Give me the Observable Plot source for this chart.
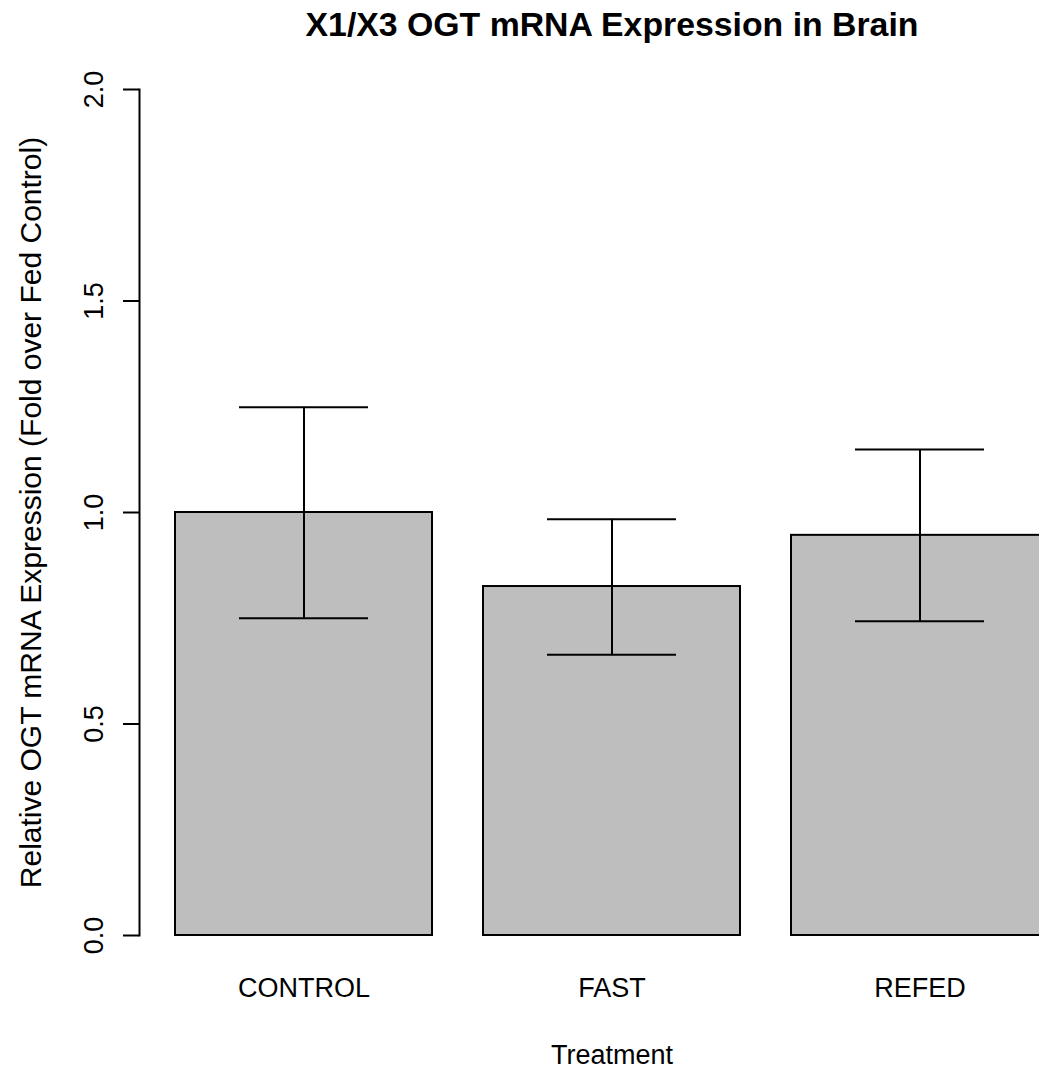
<!DOCTYPE html>
<html>
<head>
<meta charset="utf-8">
<script src="https://cdn.jsdelivr.net/npm/d3@7"></script>
<script src="https://cdn.jsdelivr.net/npm/@observablehq/plot@0.6"></script>
<style>
  html, body { margin: 0; padding: 0; background: white; overflow: hidden; }
</style>
</head>
<body>
<div id="chart"></div>
<script>
const title = "X1/X3 OGT mRNA Expression in Brain";
const xLabel = "Treatment";
const yLabel = "Relative OGT mRNA Expression (Fold over Fed Control)";
const categories = ["CONTROL", "FAST", "REFED"];
const means = [1.0, 0.825, 0.946];
const upperValues = [1.249, 0.984, 1.149];
const lowerValues = [0.750, 0.664, 0.743];
const yTicks = [0, 0.5, 1, 1.5, 2];

const data = categories.map((c, i) => ({category: c, mean: means[i], upper: upperValues[i], lower: lowerValues[i]}));

const font = "'Liberation Sans', Arial, Helvetica, sans-serif";

const chart = Plot.plot({
  width: 1039,
  height: 1069,
  marginLeft: 139,
  marginRight: -45,
  marginTop: 89,
  marginBottom: 134,
  style: {fontFamily: font, fontSize: "27px", background: "white", color: "black"},
  x: {domain: categories, paddingInner: 0.2 / 1.2, paddingOuter: 0.14 / 1.2, axis: null},
  y: {domain: [0, 2], axis: null},
  marks: [
    Plot.barY(data, {x: "category", y: "mean", fill: "#bebebe", stroke: "black", strokeWidth: 2}),
    Plot.ruleX(data, {x: "category", y1: "lower", y2: "upper", stroke: "black", strokeWidth: 2}),
    Plot.tickY(data, {x: "category", y: "upper", stroke: "black", strokeWidth: 2, insetLeft: 64, insetRight: 64}),
    Plot.tickY(data, {x: "category", y: "lower", stroke: "black", strokeWidth: 2, insetLeft: 64, insetRight: 64}),
    Plot.frame({anchor: "left", stroke: "black", strokeWidth: 2}),
    Plot.axisY({ticks: yTicks, tickSize: 16, tickFormat: () => "", stroke: "black", strokeWidth: 2}),
    Plot.text(yTicks, {y: d => d, text: d => d.toFixed(1), frameAnchor: "left", rotate: -90, dx: -37, lineAnchor: "bottom", textAnchor: "middle", fontSize: 27, fill: "black"}),
    Plot.text(categories, {x: d => d, text: d => d, frameAnchor: "bottom", lineAnchor: "bottom", dy: 61, fontSize: 27, fill: "black"}),
    Plot.text([xLabel], {text: d => d, frameAnchor: "bottom", lineAnchor: "bottom", dy: 128, fontSize: 27, fill: "black"}),
    Plot.text([yLabel], {text: d => d, frameAnchor: "left", rotate: -90, dx: -99, lineAnchor: "bottom", textAnchor: "middle", fontSize: 30, fill: "black"}),
    Plot.text([title], {text: d => d, frameAnchor: "top", lineAnchor: "bottom", dy: -54, fontSize: 33.8, fontWeight: "bold", fill: "black"})
  ]
});
document.getElementById("chart").appendChild(chart);
</script>
</body>
</html>
